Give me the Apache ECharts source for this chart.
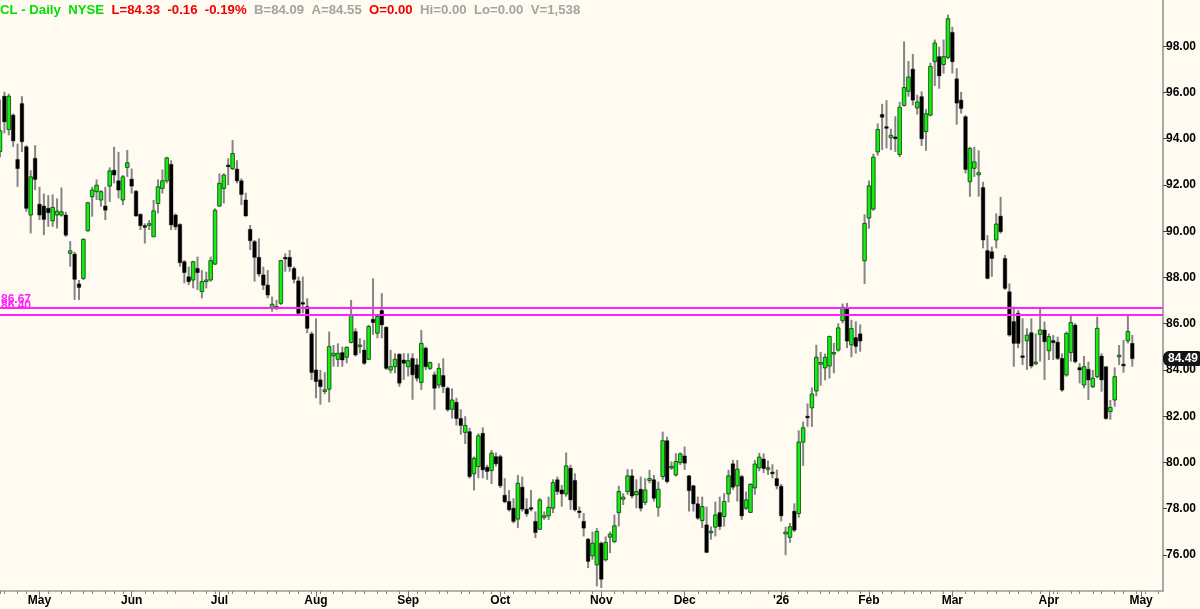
<!DOCTYPE html>
<html>
<head>
<meta charset="utf-8">
<script src="https://cdn.jsdelivr.net/npm/echarts@6/dist/echarts.min.js"></script>
<style>
html,body{margin:0;padding:0;background:#fffbf0;}
#chart{width:1200px;height:609px;}
</style>
</head>
<body>
<div id="chart"></div>
<script>
// Trading days (categories); the last few are empty future sessions on the axis
const dates = ("2025-04-17 2025-04-21 2025-04-22 2025-04-23 2025-04-24 2025-04-25 2025-04-28 2025-04-29 2025-04-30 " +
"2025-05-01 2025-05-02 2025-05-05 2025-05-06 2025-05-07 2025-05-08 2025-05-09 2025-05-12 2025-05-13 2025-05-14 2025-05-15 2025-05-16 2025-05-19 2025-05-20 2025-05-21 2025-05-22 2025-05-23 2025-05-27 2025-05-28 2025-05-29 2025-05-30 " +
"2025-06-02 2025-06-03 2025-06-04 2025-06-05 2025-06-06 2025-06-09 2025-06-10 2025-06-11 2025-06-12 2025-06-13 2025-06-16 2025-06-17 2025-06-18 2025-06-20 2025-06-23 2025-06-24 2025-06-25 2025-06-26 2025-06-27 2025-06-30 " +
"2025-07-01 2025-07-02 2025-07-03 2025-07-07 2025-07-08 2025-07-09 2025-07-10 2025-07-11 2025-07-14 2025-07-15 2025-07-16 2025-07-17 2025-07-18 2025-07-21 2025-07-22 2025-07-23 2025-07-24 2025-07-25 2025-07-28 2025-07-29 2025-07-30 2025-07-31 " +
"2025-08-01 2025-08-04 2025-08-05 2025-08-06 2025-08-07 2025-08-08 2025-08-11 2025-08-12 2025-08-13 2025-08-14 2025-08-15 2025-08-18 2025-08-19 2025-08-20 2025-08-21 2025-08-22 2025-08-25 2025-08-26 2025-08-27 2025-08-28 2025-08-29 " +
"2025-09-02 2025-09-03 2025-09-04 2025-09-05 2025-09-08 2025-09-09 2025-09-10 2025-09-11 2025-09-12 2025-09-15 2025-09-16 2025-09-17 2025-09-18 2025-09-19 2025-09-22 2025-09-23 2025-09-24 2025-09-25 2025-09-26 2025-09-29 2025-09-30 " +
"2025-10-01 2025-10-02 2025-10-03 2025-10-06 2025-10-07 2025-10-08 2025-10-09 2025-10-10 2025-10-13 2025-10-14 2025-10-15 2025-10-16 2025-10-17 2025-10-20 2025-10-21 2025-10-22 2025-10-23 2025-10-24 2025-10-27 2025-10-28 2025-10-29 2025-10-30 2025-10-31 " +
"2025-11-03 2025-11-04 2025-11-05 2025-11-06 2025-11-07 2025-11-10 2025-11-11 2025-11-12 2025-11-13 2025-11-14 2025-11-17 2025-11-18 2025-11-19 2025-11-20 2025-11-21 2025-11-24 2025-11-25 2025-11-26 2025-11-28 " +
"2025-12-01 2025-12-02 2025-12-03 2025-12-04 2025-12-05 2025-12-08 2025-12-09 2025-12-10 2025-12-11 2025-12-12 2025-12-15 2025-12-16 2025-12-17 2025-12-18 2025-12-19 2025-12-22 2025-12-23 2025-12-24 2025-12-26 2025-12-29 2025-12-30 2025-12-31 " +
"2026-01-02 2026-01-05 2026-01-06 2026-01-07 2026-01-08 2026-01-09 2026-01-12 2026-01-13 2026-01-14 2026-01-15 2026-01-16 2026-01-20 2026-01-21 2026-01-22 2026-01-23 2026-01-26 2026-01-27 2026-01-28 2026-01-29 2026-01-30 " +
"2026-02-02 2026-02-03 2026-02-04 2026-02-05 2026-02-06 2026-02-09 2026-02-10 2026-02-11 2026-02-12 2026-02-13 2026-02-17 2026-02-18 2026-02-19 2026-02-20 2026-02-23 2026-02-24 2026-02-25 2026-02-26 2026-02-27 " +
"2026-03-02 2026-03-03 2026-03-04 2026-03-05 2026-03-06 2026-03-09 2026-03-10 2026-03-11 2026-03-12 2026-03-13 2026-03-16 2026-03-17 2026-03-18 2026-03-19 2026-03-20 2026-03-23 2026-03-24 2026-03-25 2026-03-26 2026-03-27 2026-03-30 2026-03-31 " +
"2026-04-01 2026-04-02 2026-04-06 2026-04-07 2026-04-08 2026-04-09 2026-04-10 2026-04-13 2026-04-14 2026-04-15 2026-04-16 2026-04-17 2026-04-20 2026-04-21 2026-04-22 2026-04-23 2026-04-24 2026-04-27 2026-04-28 2026-04-29 2026-04-30 " +
"2026-05-01 2026-05-04 2026-05-05 2026-05-06 2026-05-07 2026-05-08").split(" ");

const opens = [
93.45,95.84,94.40,95.02,93.10,95.52,93.65,90.70,93.15,91.17,
91.09,90.99,90.45,90.70,90.70,90.70,89.04,89.01,87.72,87.96,
90.02,91.49,91.71,91.35,91.09,91.95,92.64,92.18,91.35,92.76,
92.25,91.73,90.73,90.24,90.27,89.76,91.20,91.85,92.18,92.89,
90.70,90.29,88.68,88.03,87.89,88.39,87.39,87.82,87.89,88.58,
91.09,91.85,92.86,92.71,92.69,92.18,91.35,90.08,89.55,88.87,
88.11,87.67,86.70,86.67,86.88,88.87,88.87,88.39,87.85,86.91,
86.74,85.56,84.00,83.57,83.07,83.17,84.61,84.46,84.75,84.55,
85.19,85.66,85.01,84.86,84.46,86.19,85.59,86.57,85.85,84.00,
84.14,84.68,84.43,84.14,84.50,84.22,83.46,84.94,84.07,83.79,
83.35,83.76,83.21,82.30,82.60,81.90,81.30,81.33,79.51,79.82,
81.26,79.79,79.65,80.25,80.25,78.58,78.31,78.02,77.55,78.93,
77.98,78.04,77.45,77.11,77.63,77.69,78.02,79.25,78.81,78.64,
79.75,79.22,77.88,77.45,76.68,75.96,75.57,76.51,75.79,76.77,
76.58,77.83,78.41,78.74,79.42,78.60,78.84,78.27,79.22,79.25,
78.06,79.39,80.94,79.77,79.46,79.99,80.28,79.42,78.99,78.21,
77.49,77.30,76.97,77.20,77.83,77.66,78.64,79.94,78.99,79.39,
78.02,77.84,78.90,79.77,80.15,79.70,79.58,79.30,78.97,76.91,
76.76,77.89,77.79,80.88,82.00,82.36,83.09,84.25,84.09,84.17,
84.70,84.86,86.13,86.68,85.09,85.40,85.56,88.72,90.57,90.96,
93.43,95.05,94.51,94.05,94.08,93.32,95.44,96.05,97.01,95.33,
95.82,94.31,95.02,97.33,97.55,97.21,97.52,98.60,96.59,95.67,
94.95,92.14,92.72,92.44,91.89,89.16,89.11,89.62,90.65,88.82,
87.38,86.09,86.45,84.60,85.26,85.61,84.29,85.54,85.73,84.83,
85.27,85.20,84.50,83.78,84.75,85.94,84.10,83.35,84.03,83.28,
83.71,84.60,84.14,82.20,82.70,84.57,84.25,85.26,85.15];

const closes = [
94.35,94.73,95.84,93.91,92.71,93.87,90.99,92.35,92.24,90.70,
90.51,90.80,91.03,90.87,90.84,89.83,89.15,87.92,87.57,89.65,
91.23,91.78,91.99,91.71,90.91,92.61,92.43,91.78,92.35,92.96,
91.95,90.66,90.24,90.17,90.31,90.88,91.92,92.18,93.17,90.27,
90.19,88.64,88.21,87.82,88.68,88.21,87.82,87.89,88.73,90.91,
92.07,92.43,92.79,93.36,92.18,91.59,90.66,89.59,88.87,88.15,
87.67,87.24,86.84,86.74,88.73,88.80,88.47,87.92,86.45,86.85,
85.80,83.89,83.50,83.28,83.14,85.01,84.72,84.72,84.43,84.98,
86.38,84.65,85.08,84.29,85.88,86.05,86.31,85.95,84.07,84.14,
84.46,83.43,84.29,84.40,83.79,83.64,85.15,84.14,84.32,83.21,
84.07,83.28,82.28,82.70,81.90,81.60,81.60,79.39,80.18,81.15,
79.68,79.61,80.40,79.94,78.99,78.30,77.95,77.45,79.10,77.98,
77.78,77.98,76.97,78.38,77.69,78.06,79.13,78.74,78.64,79.85,
78.38,77.95,77.85,77.16,75.72,76.51,77.01,74.95,76.54,76.90,
77.26,78.74,78.50,79.42,78.55,78.74,78.02,78.81,79.30,78.45,
78.84,80.94,79.17,79.82,80.04,80.37,79.97,78.78,78.21,77.59,
78.09,76.11,77.01,77.73,77.23,78.31,79.42,78.93,79.71,77.69,
78.38,79.05,79.93,80.23,79.74,79.77,79.51,78.99,77.69,76.99,
77.22,77.07,80.88,81.50,81.93,82.96,84.55,84.32,84.55,85.45,
84.74,85.82,86.71,85.25,85.79,85.02,85.25,90.34,91.96,93.20,
94.40,94.93,94.46,94.15,94.00,95.36,96.21,96.67,95.67,95.59,
94.00,95.08,97.13,98.14,96.72,97.55,99.19,97.33,95.54,95.31,
92.67,93.58,93.00,92.53,89.62,87.96,88.82,90.31,89.98,87.53,
85.51,85.15,85.15,84.55,85.51,84.17,84.32,85.73,85.22,85.44,
85.18,84.50,83.13,85.58,86.05,84.36,84.00,84.14,83.57,83.64,
85.80,83.57,81.90,82.38,83.71,84.64,84.18,85.66,84.49];

const lows = [
93.20,94.23,94.15,93.65,91.92,93.43,90.84,89.91,91.78,90.48,
89.83,90.19,90.19,90.12,90.63,89.76,88.47,87.03,87.03,87.89,
89.98,90.63,91.35,91.06,90.48,91.27,92.07,91.42,91.13,92.35,
91.63,90.63,90.05,89.47,90.05,89.76,90.77,91.63,92.07,90.05,
90.05,88.47,87.75,87.67,87.53,87.46,87.10,87.53,87.82,88.54,
91.06,91.20,91.99,92.64,92.07,91.13,90.63,89.19,87.82,88.04,
87.46,87.10,86.52,86.59,86.81,88.25,88.25,87.75,86.38,86.45,
85.59,83.57,82.78,82.50,82.95,82.60,84.14,84.14,84.14,84.29,
85.15,84.58,84.72,84.22,84.43,85.52,85.37,85.37,84.00,83.86,
83.86,83.28,83.57,83.72,82.71,83.50,83.14,84.00,84.00,82.28,
83.21,83.00,82.20,81.90,81.60,81.20,80.80,79.30,78.79,79.32,
79.32,79.25,79.07,79.82,78.89,78.24,77.88,77.37,77.16,77.88,
77.66,77.88,76.73,77.08,77.52,77.52,77.81,78.60,78.09,78.52,
77.95,77.88,77.59,76.80,75.43,75.79,74.64,74.57,75.72,76.08,
76.51,77.23,78.16,78.60,78.45,78.02,77.88,78.16,79.10,78.31,
77.66,79.25,79.10,79.68,79.39,79.89,79.68,77.88,77.88,77.52,
77.16,76.08,76.66,76.80,77.08,77.23,78.27,78.81,78.31,77.52,
77.95,77.81,78.60,79.62,79.54,79.46,79.31,78.84,77.45,75.99,
76.53,76.99,77.61,79.85,81.54,81.54,82.86,83.32,83.55,83.63,
83.86,84.79,86.02,84.94,84.55,84.71,84.79,87.72,90.11,90.88,
93.27,93.51,93.58,93.51,93.43,93.20,95.39,95.82,95.44,95.05,
93.69,93.48,94.97,96.28,96.16,96.82,97.44,96.82,94.61,95.09,
92.50,91.49,92.35,91.49,89.26,87.92,88.03,89.26,89.90,87.46,
85.44,84.14,84.94,84.21,84.00,84.07,84.21,84.36,83.57,84.43,
84.43,84.43,83.06,83.71,84.36,84.29,83.42,83.21,82.70,83.21,
83.64,83.06,81.85,81.85,82.41,84.21,83.88,85.15,84.14];

const highs = [
95.70,96.03,95.95,95.09,93.79,95.84,93.72,92.64,93.72,91.92,
91.63,91.56,91.59,91.42,91.89,90.84,89.57,89.11,87.89,89.69,
91.27,91.92,92.24,91.78,91.92,92.76,93.65,93.43,92.43,93.51,
92.71,91.78,90.77,90.34,90.48,91.35,92.24,92.67,93.22,93.07,
90.77,90.34,88.75,88.47,88.72,88.90,88.32,88.25,88.90,90.99,
92.50,92.50,93.15,93.94,93.07,92.28,91.66,90.27,89.62,89.69,
88.47,88.32,87.17,87.03,88.75,89.04,89.19,88.47,88.04,88.04,
87.10,85.66,86.23,84.00,83.90,85.66,85.08,85.15,85.01,85.01,
87.03,85.80,85.37,85.30,85.95,87.96,86.38,87.32,85.88,84.87,
84.72,84.72,84.72,84.72,84.72,84.50,85.73,85.01,84.36,83.93,
84.29,84.50,83.28,83.20,82.80,82.30,82.00,81.50,80.25,81.26,
81.52,79.90,80.54,80.43,80.33,79.32,78.81,78.45,79.46,79.39,
78.45,78.81,77.88,78.45,77.88,78.52,79.27,79.39,79.03,80.43,
79.90,79.53,78.09,77.81,76.73,77.01,77.16,76.58,76.80,77.01,
77.74,78.99,78.67,79.71,79.71,79.27,79.39,79.32,79.68,79.46,
79.17,81.33,81.11,80.04,80.40,80.43,80.69,79.46,79.03,78.52,
78.52,78.09,77.23,78.31,78.52,78.67,79.68,80.11,80.11,79.46,
78.74,79.10,80.10,80.42,80.39,80.08,79.92,79.69,79.07,77.22,
77.38,78.23,81.39,81.77,82.55,83.24,85.09,84.78,84.71,85.48,
85.17,86.02,86.87,86.90,86.17,86.10,85.97,90.73,92.19,93.35,
94.66,95.51,95.67,94.43,94.97,95.59,98.21,97.36,97.67,95.90,
96.05,95.28,97.29,98.29,97.98,98.29,99.37,98.84,97.05,96.03,
95.02,93.65,93.65,93.50,92.14,89.83,89.33,90.77,91.49,88.97,
87.74,86.74,86.59,86.23,85.80,86.23,85.58,86.66,86.09,85.58,
85.51,85.44,84.72,85.66,86.38,86.02,84.29,84.60,84.36,84.00,
86.30,84.72,84.14,82.70,84.11,85.08,85.30,86.38,85.51];

const monthTickLabels = ['May','Jun','Jul','Aug','Sep','Oct','Nov','Dec',"'26",'Feb','Mar','Apr','May'];
const priceTicks = [76,78,80,82,84,86,88,90,92,94,96,98];
const levelLines = [86.67, 86.40];
const lastPrice = 84.49;
const header = {
  name: 'CL - Daily  NYSE',
  last: 'L=84.33  -0.16  -0.19%',
  bidAsk: 'B=84.09  A=84.55',
  open: 'O=0.00',
  rest: 'Hi=0.00  Lo=0.00  V=1,538'
};

// month-start indices for labels
const monthStartLabel = {};
let mk = 0;
for (let i = 1; i < dates.length; i++) {
  if (dates[i].slice(0, 7) !== dates[i - 1].slice(0, 7)) {
    monthStartLabel[i] = monthTickLabels[mk++];
  }
}
function isMinorTick(i) {
  const d = new Date(dates[i] + 'T00:00:00Z').getUTCDay();
  const prev = i > 0 ? new Date(dates[i - 1] + 'T00:00:00Z').getUTCDay() : 9;
  return (d <= prev) || d === 4; // first session of week, and Thursday
}

const candleData = opens.map((o, i) => [i, o, closes[i], lows[i], highs[i]]);

const chart = echarts.init(document.getElementById('chart'), null, {renderer: 'canvas'});
const FONT = '"Liberation Sans", Arial, sans-serif';
const FS = 13.2;

chart.setOption({
  backgroundColor: '#fffbf0',
  animation: false,
  title: {
    left: 0, top: 4, padding: 0,
    text: '{g|' + header.name + '}  {r|' + header.last + '}  {s|' + header.bidAsk + '}  {r|' + header.open + '}  {s|' + header.rest + '}',
    textStyle: {
      fontFamily: FONT, fontSize: FS, fontWeight: 'bold',
      rich: {
        g: {color: '#00e000', fontFamily: FONT, fontSize: FS, fontWeight: 'bold'},
        r: {color: '#f00000', fontFamily: FONT, fontSize: FS, fontWeight: 'bold'},
        s: {color: '#a3a3a3', fontFamily: FONT, fontSize: FS, fontWeight: 'bold'}
      }
    }
  },
  grid: {left: 0, right: 37, top: 0, bottom: 18, containLabel: false},
  xAxis: [{
    type: 'category', data: dates, boundaryGap: false, position: 'bottom',
    axisLine: {show: true, lineStyle: {color: '#9a9a9a', width: 1.5}},
    axisTick: {show: true, length: 6, interval: (i) => monthStartLabel[i] !== undefined, lineStyle: {color: '#777', width: 1}},
    axisLabel: {
      show: true, interval: (i) => monthStartLabel[i] !== undefined,
      formatter: (v, i) => monthStartLabel[i] || '',
      fontFamily: FONT, fontSize: 12, fontWeight: 'bold', color: '#000', margin: 4
    },
    splitLine: {show: false}
  }, {
    type: 'category', data: dates, boundaryGap: false, position: 'bottom',
    axisLine: {show: false},
    axisTick: {show: true, length: 3, interval: (i) => isMinorTick(i) && monthStartLabel[i] === undefined, lineStyle: {color: '#888', width: 1}},
    axisLabel: {show: false},
    splitLine: {show: false}
  }],
  yAxis: {
    type: 'value', position: 'right', min: 74.44, max: 100, scale: true,
    axisLine: {show: true, lineStyle: {color: '#a8a8a8', width: 2}},
    axisTick: {show: true, length: 4, customValues: priceTicks, lineStyle: {color: '#444'}},
    axisLabel: {
      show: true, customValues: priceTicks, formatter: (v) => v.toFixed(2),
      fontFamily: FONT, fontSize: 12, fontWeight: 'bold', color: '#000', margin: 3
    },
    splitLine: {show: false}
  },
  series: [{
    type: 'custom',
    xAxisIndex: 0,
    clip: false,
    data: candleData,
    encode: {x: 0, y: [1, 2, 3, 4]},
    renderItem: function (params, api) {
      const i = api.value(0);
      const o = api.value(1), c = api.value(2);
      const l = Math.min(api.value(3), o, c), h = Math.max(api.value(4), o, c);
      const pTop = api.coord([i, Math.max(o, c)]);
      const pBot = api.coord([i, Math.min(o, c)]);
      const pH = api.coord([i, h]);
      const pL = api.coord([i, l]);
      const band = api.size([1, 0])[0];
      const w = Math.max(2, band * 0.82);
      const x = pTop[0];
      const up = c >= o;
      let y0 = pTop[1], bh = pBot[1] - pTop[1];
      if (bh < 1.6) { y0 -= (1.6 - bh) / 2; bh = 1.6; }
      return {
        type: 'group',
        children: [
          {type: 'line', shape: {x1: x, y1: pH[1], x2: x, y2: pL[1]}, style: {stroke: '#858585', lineWidth: 2}},
          {type: 'rect', shape: {x: x - w / 2, y: y0, width: w, height: bh},
           style: {fill: up ? '#14ee14' : '#000000', stroke: up ? '#0b3d0b' : '#000000', lineWidth: up ? 0.8 : 0.4}}
        ]
      };
    },
    markLine: {
      silent: true, symbol: 'none', animation: false,
      data: [
        {yAxis: levelLines[0], lineStyle: {color: '#ff22ff', width: 2, type: 'solid'},
         label: {show: true, position: 'insideStartTop', distance: [1, 3], formatter: levelLines[0].toFixed(2), color: '#ff22ff', fontFamily: FONT, fontSize: 12, fontWeight: 'bold'}},
        {yAxis: levelLines[1], lineStyle: {color: '#ff22ff', width: 2, type: 'solid'},
         label: {show: true, position: 'insideStartTop', distance: [1, 3], formatter: levelLines[1].toFixed(2), color: '#ff22ff', fontFamily: FONT, fontSize: 12, fontWeight: 'bold'}}
      ]
    }
  }, {
    type: 'line',
    xAxisIndex: 0,
    data: [],
    silent: true,
    markLine: {
      silent: true, symbol: ['none', 'triangle'], symbolSize: [0, 0], animation: false,
      lineStyle: {color: 'rgba(0,0,0,0)', width: 1, type: 'solid'},
      label: {show: true, position: 'end', distance: 0, formatter: () => lastPrice.toFixed(2),
        color: '#ffffff', backgroundColor: '#151515', borderRadius: [6, 3, 3, 6], padding: [2, 3, 1, 5],
        fontFamily: FONT, fontSize: 12, fontWeight: 'bold'},
      data: [{yAxis: lastPrice}]
    }
  }]
});
</script>
</body>
</html>
